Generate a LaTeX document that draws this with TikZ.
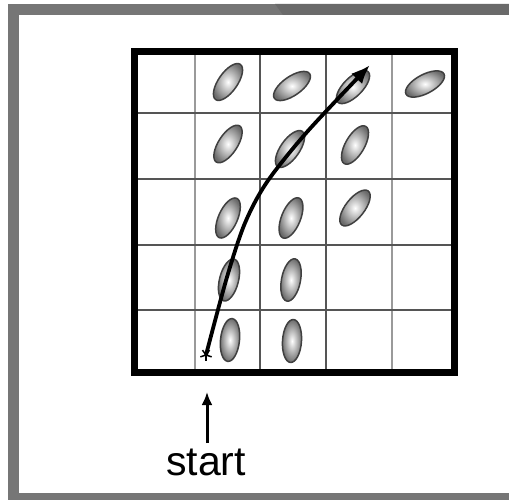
\documentclass[tikz,border=0pt]{standalone}
\usepackage{fontspec}
\setmainfont{Liberation Sans}
\usetikzlibrary{arrows.meta}

\definecolor{framegray}{HTML}{767676}
\definecolor{framedark}{HTML}{6A6A6A}
\definecolor{gridlight}{HTML}{9A9A9A}
\definecolor{griddark}{HTML}{555555}

\tikzset{
  gridline/.style={line width=1.8, griddark},
  gridpale/.style={line width=1.8, gridlight},
  grain/.pic={
    \shade[inner color=white, outer color=black!58, draw=black!75, line width=1.5]
      (0,0) ellipse [x radius=21.5, y radius=9.5];
  },
  path arrow/.style={line width=3.8, -{Latex[length=19, width=15]}},
  start arrow/.style={line width=3, -{Latex[length=13, width=11]}},
}

\begin{document}
\begin{tikzpicture}[x=1pt, y=-1pt]
\useasboundingbox (0,0) rectangle (509,500);

% page frame
\fill[white] (0,0) rectangle (509,500);
\fill[framegray] (8,4) rectangle (509,500);
\fill[framedark] (275,4) -- (509,4) -- (509,15) -- (283,15) -- cycle;
\fill[white] (19,15) rectangle (509,493);

% grid lines
\draw[gridpale] (195,51.5) -- (195,372.5);
\draw[gridline] (260,51.5) -- (260,372.5);
\draw[gridline] (326,51.5) -- (326,372.5);
\draw[gridpale] (392,51.5) -- (392,372.5);
\foreach \y in {113,179,245,310}
  \draw[gridline] (134.5,\y) -- (454,\y);

% oriented grains
\pic[rotate=55] at (228,82) {grain};
\pic[rotate=35] at (292,86) {grain};
\pic[rotate=45] at (353,87) {grain};
\pic[rotate=28] at (425,84) {grain};
\pic[rotate=57] at (228,144) {grain};
\pic[rotate=55] at (290,149) {grain};
\pic[rotate=60] at (355,145) {grain};
\pic[rotate=66] at (228,218) {grain};
\pic[rotate=68] at (291,218) {grain};
\pic[rotate=52] at (355,208) {grain};
\pic[rotate=76] at (229,280) {grain};
\pic[rotate=79] at (291,280) {grain};
\pic[rotate=84] at (230,340) {grain};
\pic[rotate=86] at (292,341) {grain};

% outer box
\draw[line width=7] (134.5,51.5) rectangle (454,372.5);

% trajectory
\coordinate (s) at (206,355);
\coordinate (p1) at (227,277);
\coordinate (p2) at (245,223);
\coordinate (p3) at (267,182);
\coordinate (p4) at (307,132);
\coordinate (e) at (370,65);
\draw[path arrow] plot[smooth, tension=0.5] coordinates {(s) (p1) (p2) (p3) (p4) (e)};

% start marker (asterisk)
\foreach \a in {90,162,234,306,18}
  \draw[line width=1.5] (s) -- ++(\a:6);

% start label
\node[anchor=base, font=\fontsize{41}{41}\selectfont, inner sep=0] (lbl) at (206,475) {start};
\coordinate (a0) at (207,443);
\coordinate (a1) at (207,392);
\draw[start arrow] (a0) -- (a1);
\end{tikzpicture}
\end{document}
